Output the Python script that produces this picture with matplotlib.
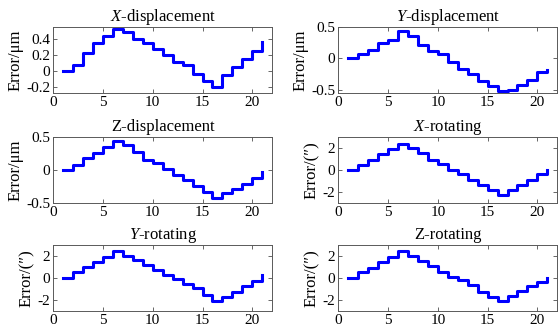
import numpy as np
import matplotlib
matplotlib.use('Agg')
import matplotlib.pyplot as plt

plt.rcParams['font.family'] = ['Liberation Serif', 'DejaVu Serif']
plt.rcParams['mathtext.fontset'] = 'custom'
plt.rcParams['mathtext.rm'] = 'Liberation Serif'
plt.rcParams['mathtext.it'] = 'Liberation Serif:italic'
plt.rcParams['axes.unicode_minus'] = False

# measurement points
x = np.arange(1, 22)

x_disp = [0, 0.07, 0.23, 0.36, 0.44, 0.53, 0.49, 0.40, 0.35, 0.28, 0.20,
          0.11, 0.07, -0.035, -0.13, -0.20, -0.05, 0.05, 0.15, 0.25, 0.37]
y_disp = [0, 0.067, 0.13, 0.236, 0.29, 0.43, 0.35, 0.21, 0.11, 0.067, -0.056,
          -0.17, -0.25, -0.365, -0.44, -0.52, -0.50, -0.43, -0.34, -0.22, -0.18]
z_disp = [0, 0.078, 0.18, 0.25, 0.34, 0.44, 0.37, 0.27, 0.15, 0.10, 0.01,
          -0.08, -0.16, -0.24, -0.34, -0.42, -0.35, -0.29, -0.21, -0.12, -0.04]
x_rot = [0, 0.41, 0.86, 1.42, 1.9, 2.37, 1.96, 1.5, 0.9, 0.55, 0,
         -0.41, -0.9, -1.35, -1.8, -2.3, -1.8, -1.35, -0.9, -0.41, 0]
y_rot = [0, 0.53, 0.97, 1.41, 1.91, 2.44, 2.0, 1.6, 1.18, 0.74, 0.3,
         -0.12, -0.53, -0.94, -1.53, -2.06, -1.7, -1.24, -0.71, -0.24, 0.24]
z_rot = [0, 0.53, 0.94, 1.41, 1.9, 2.43, 1.96, 1.54, 1.06, 0.53, 0.06,
         -0.18, -0.65, -1.24, -1.69, -2.12, -1.6, -1.15, -0.71, -0.35, 0]

titles = [r'$\mathit{X}$-displacement', r'$\mathit{Y}$-displacement', 'Z-displacement',
          r'$\mathit{X}$-rotating', r'$\mathit{Y}$-rotating', 'Z-rotating']
ylabels = ['Error/μm', 'Error/μm', 'Error/μm', 'Error/(″)', 'Error/(″)', 'Error/(″)']
series = [x_disp, y_disp, z_disp, x_rot, y_rot, z_rot]
ylims = [(-0.28, 0.56), (-0.55, 0.5), (-0.5, 0.5), (-3, 3), (-3, 3), (-3, 3)]
yticks = [[-0.2, 0, 0.2, 0.4], [-0.5, 0, 0.5], [-0.5, 0, 0.5],
          [-2, 0, 2], [-2, 0, 2], [-2, 0, 2]]
yticklabels = [['-0.2', '0', '0.2', '0.4'], ['-0.5', '0', '0.5'], ['-0.5', '0', '0.5'],
               ['-2', '0', '2'], ['-2', '0', '2'], ['-2', '0', '2']]

fig = plt.figure(figsize=(5.59, 3.31), dpi=100)

lefts = [0.095, 0.605]
bottoms = [0.719, 0.387, 0.060]
w, h = 0.392, 0.200

for i in range(6):
    row, col = i // 2, i % 2
    ax = fig.add_axes([lefts[col], bottoms[row], w, h])
    ax.step(x, series[i], where='post', color=(0, 0, 1), linewidth=2.2)
    ax.set_xlim(0, 22)
    ax.set_ylim(*ylims[i])
    ax.set_xticks([0, 5, 10, 15, 20])
    ax.set_yticks(yticks[i])
    ax.set_yticklabels(yticklabels[i])
    ax.tick_params(direction='in', top=True, right=True, labelsize=11,
                   length=3, width=0.6, color='0.3', pad=2)
    for s in ax.spines.values():
        s.set_color('0.35')
        s.set_linewidth(0.7)
    ax.set_title(titles[i], fontsize=12, pad=4)
    ax.set_ylabel(ylabels[i], fontsize=12, labelpad=2)

fig.savefig('out.png', dpi=100)
